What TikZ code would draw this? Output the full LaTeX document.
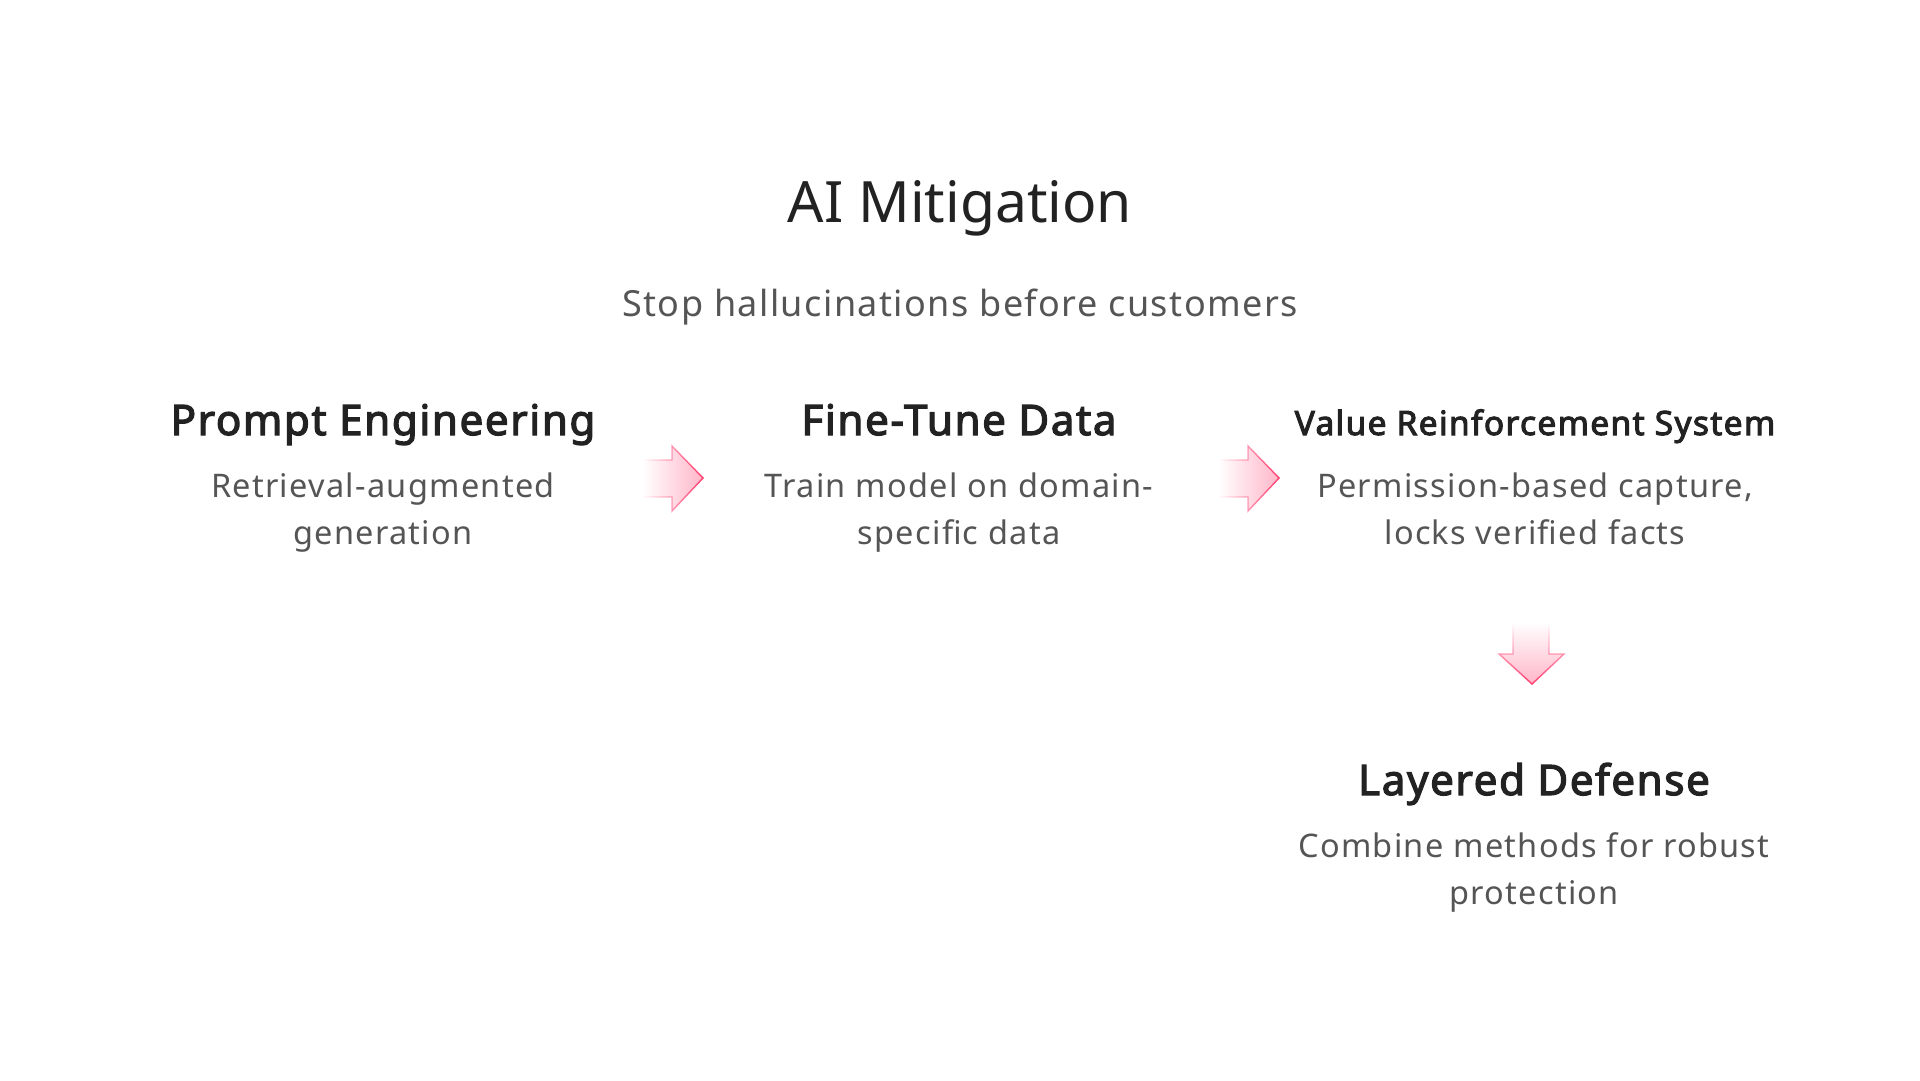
\documentclass[tikz,border=0pt]{standalone}
\usepackage{fontspec}
\setmainfont{Noto Sans}
\newfontfamily\descfont[LetterSpace=4]{Noto Sans}
\newfontfamily\headfont[FakeBold=3,LetterSpace=4]{Noto Sans}
\usetikzlibrary{fadings}
\definecolor{ink}{HTML}{222222}
\definecolor{subink}{HTML}{555555}
\definecolor{arrfill}{HTML}{FFB5C8}
\definecolor{arredge}{HTML}{FF3D6E}
\tikzset{
  titletext/.style={text=ink, font=\fontsize{57}{66}\selectfont, anchor=base, inner sep=0pt},
  subtext/.style={text=subink, font=\descfont\fontsize{36}{44}\selectfont, anchor=base, inner sep=0pt},
  headtext/.style={text=ink, font=\headfont\fontsize{42}{48}\selectfont, anchor=base, inner sep=0pt},
  desctext/.style={text=subink, font=\descfont\fontsize{32.5}{47}\selectfont, align=center, anchor=base, inner sep=0pt},
  flowarrow/.style={fill=arrfill, draw=arredge, line width=1.4pt, line join=miter},
}
\begin{document}
\begin{tikzpicture}[x=1pt,y=-1pt]
\useasboundingbox (0,0) rectangle (1920,1080);
\node[titletext] (title) at (960,222.7) {AI Mitigation};
\node[subtext] (subtitle) at (960,316.7) {Stop hallucinations before customers};

\node[headtext] (pe) at (383,435) {Prompt Engineering};
\node[desctext] (ped) at (383,544) {Retrieval-augmented\\generation};

\node[headtext] (ft) at (959,435) {Fine-Tune Data};
\node[desctext] (ftd) at (959,544) {Train model on domain-\\specific data};

\node[headtext, font=\headfont\fontsize{33.5}{40}\selectfont] (vr) at (1535,435) {Value Reinforcement System};
\node[desctext] (vrd) at (1535,544) {Permission-based capture,\\locks verified facts};

\node[headtext] (ld) at (1534,795) {Layered Defense};
\node[desctext] (ldd) at (1534,904) {Combine methods for robust\\protection};

% arrows
\draw[flowarrow, path fading=west] (643,460) -- (672,460) -- (672,446) -- (703,478) -- (672,511) -- (672,497) -- (643,497) -- cycle;
\draw[flowarrow, path fading=west] (1219,460) -- (1248,460) -- (1248,446) -- (1279,478) -- (1248,511) -- (1248,497) -- (1219,497) -- cycle;
\draw[flowarrow, path fading=north] (1513,623) -- (1513,654) -- (1499,654) -- (1532,684) -- (1564,654) -- (1549,654) -- (1549,623) -- cycle;
\end{tikzpicture}
\end{document}
